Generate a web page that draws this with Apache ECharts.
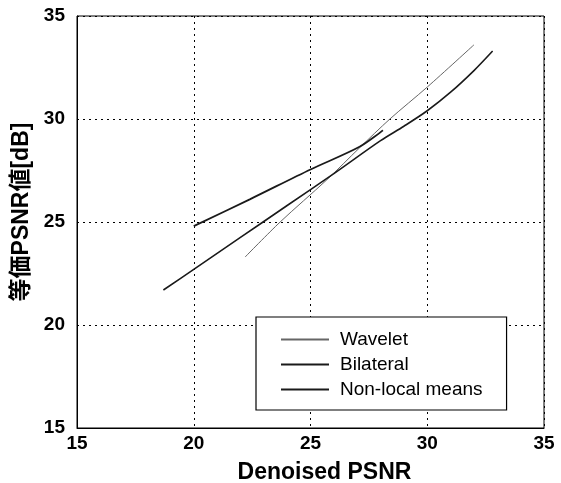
<!DOCTYPE html>
<html>
<head>
<meta charset="utf-8">
<script src="https://cdn.jsdelivr.net/npm/echarts@6/dist/echarts.min.js"></script>
<style>
  html, body { margin: 0; padding: 0; background: #fff; }
  #chart { width: 561px; height: 483px; }
</style>
</head>
<body>
<div id="chart"></div>
<script>
// values: [denoised PSNR, equivalent PSNR]
const wavelet = [[22.2, 23.3], [23.7, 25.0], [25.7, 27.05], [27.1, 28.6], [28.4, 30.0], [30.0, 31.55], [32.0, 33.6]];
const bilateral = [[18.7, 21.7], [20.0, 22.7], [22.0, 24.25], [24.0, 25.8], [26.0, 27.35], [28.0, 28.95], [29.0, 29.65], [30.0, 30.4], [31.0, 31.3], [32.0, 32.35], [32.8, 33.3]];
const nonLocal = [[20.0, 24.8], [22.4, 26.1], [25.0, 27.55], [27.1, 28.65], [28.1, 29.45]];
const seriesNames = ['Wavelet', 'Bilateral', 'Non-local means'];

const font = '"Liberation Sans", Arial, "Noto Sans CJK JP", sans-serif';

const chart = echarts.init(document.getElementById('chart'));

function lineSeries(name, data, color, width) {
  return {
    name: name,
    type: 'line',
    data: data,
    smooth: 0.3,
    symbol: 'none',
    lineStyle: { color: color, width: width },
    itemStyle: { color: color }
  };
}

chart.setOption({
  animation: false,
  backgroundColor: '#fff',
  grid: {
    left: 77, right: 17, top: 16, bottom: 55,
    outerBoundsMode: 'none',
    show: true, borderColor: '#000', borderWidth: 1
  },
  legend: {
    orient: 'vertical',
    left: 256, top: 317,
    data: seriesNames,
    backgroundColor: '#fff',
    borderColor: '#000', borderWidth: 1.2, borderRadius: 0,
    padding: [13, 24, 11, 24],
    itemWidth: 48, itemHeight: 14, itemGap: 6,
    itemStyle: { opacity: 0 },
    textStyle: { fontFamily: font, fontSize: 19, lineHeight: 18, color: '#000', padding: [0, 0, 0, 6] }
  },
  xAxis: {
    type: 'value', min: 15, max: 35, interval: 5,
    name: 'Denoised PSNR', nameLocation: 'middle', nameGap: 33,
    nameTextStyle: { fontFamily: font, fontSize: 23, fontWeight: 'bold', color: '#000', padding: [0, 0, 0, 28] },
    axisLine: { show: true, lineStyle: { color: '#000' } },
    axisTick: { show: false },
    axisLabel: { fontFamily: font, fontSize: 19, fontWeight: 'bold', color: '#000', margin: 6 },
    splitLine: { show: true, lineStyle: { color: '#000', type: [2, 4], width: 1 } }
  },
  yAxis: {
    type: 'value', min: 15, max: 35, interval: 5,
    name: '等価PSNR値[dB]', nameLocation: 'middle', nameGap: 43,
    nameTextStyle: { fontFamily: font, fontSize: 23, fontWeight: 'bold', color: '#000', padding: [0, 0, 0, 20] },
    axisLine: { show: true, lineStyle: { color: '#000' } },
    axisTick: { show: false },
    axisLabel: { fontFamily: font, fontSize: 19, fontWeight: 'bold', color: '#000', margin: 12 },
    splitLine: { show: true, lineStyle: { color: '#000', type: [2, 4], width: 1 } }
  },
  series: [
    lineSeries(seriesNames[0], wavelet, '#666', 1),
    lineSeries(seriesNames[1], bilateral, '#1a1a1a', 1.6),
    lineSeries(seriesNames[2], nonLocal, '#1a1a1a', 1.8)
  ]
});
</script>
</body>
</html>
